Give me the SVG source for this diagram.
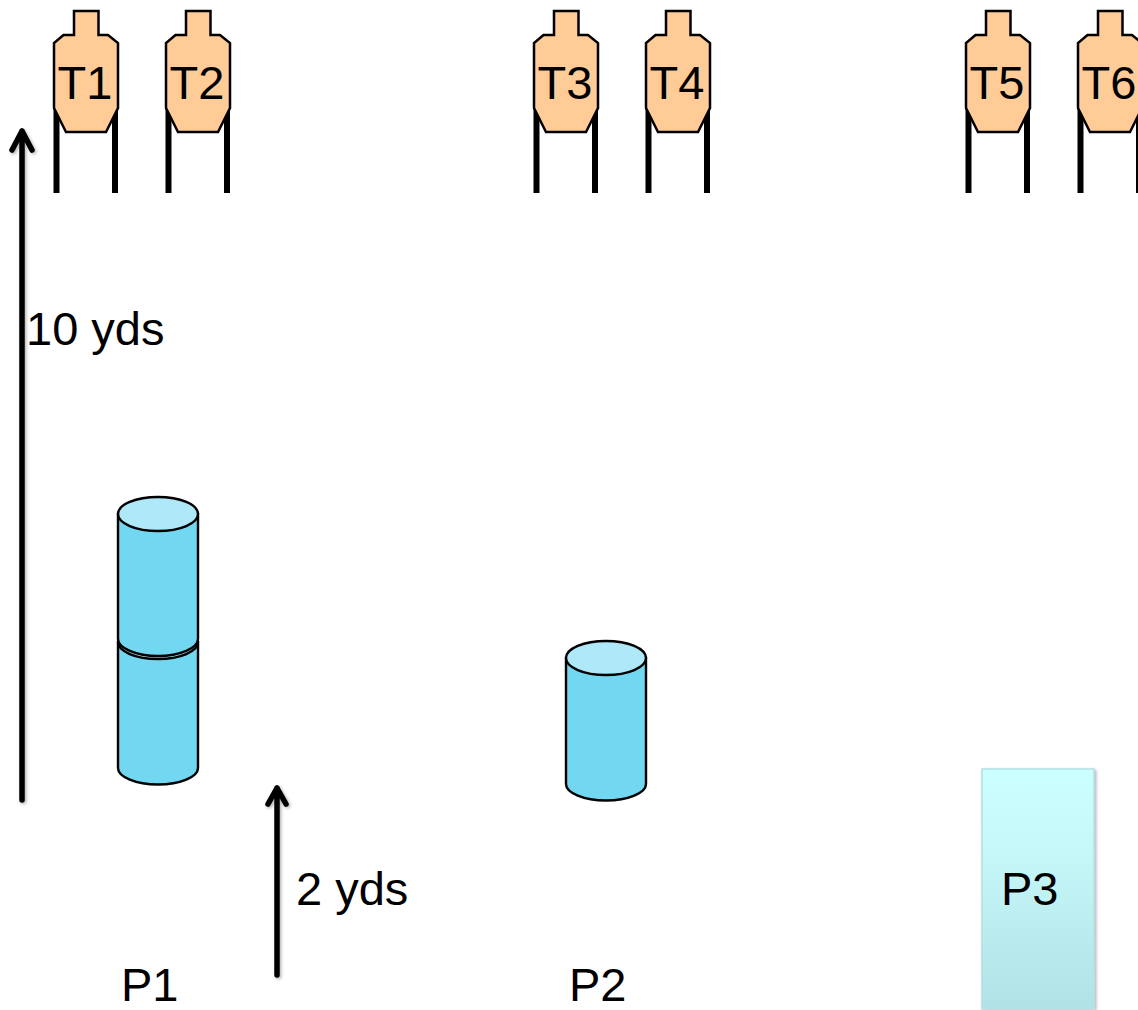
<svg xmlns="http://www.w3.org/2000/svg" width="1138" height="1010" viewBox="0 0 1138 1010">
<style>
text{font-family:"Liberation Sans",Arial,sans-serif;font-size:47px;fill:#000}
.leg{stroke:#000;stroke-width:6;fill:none}
.body{fill:#ffcb97;stroke:#000;stroke-width:2.500;stroke-linejoin:miter}
.cyl{fill:#72d8f2;stroke:#000;stroke-width:2.400}
.top{fill:#aee8f9;stroke:#000;stroke-width:2.400}
.arrow{fill:none;stroke:#000;stroke-width:5.500;stroke-linecap:round;stroke-linejoin:round}
</style>
<defs>
<g id="target">
<path class="leg" d="M56.500 108V193M115 108V193"/>
<path class="body" d="M74 11H98.500V35H108L118 43V108L106 132H66L54 108V43L63.500 35H74Z"/>
</g>
<linearGradient id="p3g" x1="0" y1="0" x2="0" y2="1">
<stop offset="0" stop-color="#ccffff"/><stop offset="0.35" stop-color="#c6f7f9"/><stop offset="1" stop-color="#b0e2e6"/>
</linearGradient>
<filter id="sh" x="-10%" y="-10%" width="125%" height="125%">
<feDropShadow dx="1.500" dy="1.500" stdDeviation="1.500" flood-color="#000" flood-opacity="0.3"/>
</filter>
</defs>
<g id="T1"><use href="#target"/><text x="57.500" y="99">T1</text></g>
<g id="T2"><use href="#target" x="112"/><text x="169.500" y="99">T2</text></g>
<g id="T3"><use href="#target" x="480"/><text x="537.500" y="99">T3</text></g>
<g id="T4"><use href="#target" x="592"/><text x="649.500" y="99">T4</text></g>
<g id="T5"><use href="#target" x="912"/><text x="969.500" y="99">T5</text></g>
<g id="T6"><use href="#target" x="1024"/><text x="1081.500" y="99">T6</text></g>
<g id="P1-lower">
<path class="cyl" d="M118 642V768C118 777 136 784.500 158 784.500S198 777 198 768V642Z"/>
<ellipse class="top" cx="158" cy="642" rx="40" ry="17"/>
</g>
<g id="P1-upper">
<path class="cyl" d="M118 514V639C118 648 136 656 158 656S198 648 198 639V514Z"/>
<ellipse class="top" cx="158" cy="514" rx="40" ry="17"/>
</g>
<g id="P1"><text x="121" y="1001">P1</text></g>
<g id="P2">
<path class="cyl" d="M566 658V784C566 793 584 800.500 606 800.500S646 793 646 784V658Z"/>
<ellipse class="top" cx="606" cy="658" rx="40" ry="17"/>
<text x="569" y="1001">P2</text>
</g>
<g id="P3">
<rect x="982" y="769" width="112" height="240" fill="url(#p3g)" stroke="#b3e0e6" stroke-width="1.500" filter="url(#sh)"/>
<text x="1001" y="905">P3</text>
</g>
<g id="connectors" filter="url(#sh)">
<path class="arrow" d="M22 800V131M12 150L22 131L32 150"/>
<path class="arrow" d="M277 975V788M268 804L277 788L286 804"/>
</g>
<g id="labels">
<text x="26" y="345">10 yds</text>
<text x="296" y="905">2 yds</text>
</g>
</svg>
